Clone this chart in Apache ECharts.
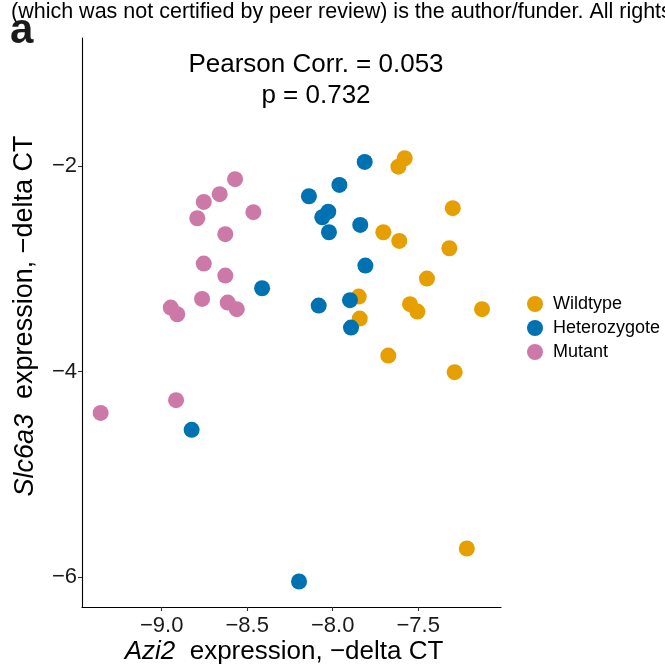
<!DOCTYPE html>
<html>
<head>
<meta charset="utf-8">
<script src="https://cdn.jsdelivr.net/npm/echarts@6/dist/echarts.min.js"></script>
<style>
html,body{margin:0;padding:0;background:#fff;}
#chart{width:665px;height:670px;}
</style>
</head>
<body>
<div id="chart"></div>
<script>
// ---- data ----
const groups = ['Wildtype', 'Heterozygote', 'Mutant'];
const groupColors = ['#E69F00', '#0072B2', '#CC79A7'];

const wildtype = [
  [-7.579, -1.925], [-7.616, -2.007], [-7.298, -2.411], [-7.704, -2.645],
  [-7.611, -2.730], [-7.318, -2.801], [-7.449, -3.096], [-7.848, -3.271],
  [-7.548, -3.345], [-7.505, -3.417], [-7.127, -3.394], [-7.842, -3.485],
  [-7.675, -3.845], [-7.287, -4.007], [-7.216, -5.723]
];
const heterozygote = [
  [-8.413, -3.190], [-7.813, -1.961], [-7.961, -2.185], [-8.139, -2.295],
  [-8.026, -2.445], [-8.061, -2.499], [-7.839, -2.574], [-8.022, -2.645],
  [-7.809, -2.970], [-8.082, -3.359], [-7.899, -3.306], [-7.893, -3.573],
  [-8.825, -4.568], [-8.197, -6.044]
];
const mutant = [
  [-8.571, -2.129], [-8.661, -2.275], [-8.754, -2.350], [-8.464, -2.450],
  [-8.792, -2.509], [-8.628, -2.664], [-8.754, -2.950], [-8.628, -3.067],
  [-8.764, -3.294], [-8.614, -3.330], [-8.561, -3.394], [-8.947, -3.378],
  [-8.909, -3.443], [-8.916, -4.279], [-9.357, -4.403]
];

const xTicks = [-9.0, -8.5, -8.0, -7.5];
const yTicks = [-6, -4, -2];
const xRange = [-9.466, -7.016];
const yRange = [-6.292, -0.755];

const statLines = ['Pearson Corr. = 0.053', 'p = 0.732'];
const headerText = '(which was not certified by peer review) is the author/funder. All rights';
const panelLabel = 'a';
const xTitle = '{i|Azi2}  expression, \u2212delta CT';
const yTitle = '{i|Slc6a3}  expression, \u2212delta CT';

// ---- chart ----
const FONT = '"Liberation Sans", Arial, Helvetica, sans-serif';
const minus = v => String(v).replace('-', '\u2212');
const chart = echarts.init(document.getElementById('chart'));
const seriesData = [wildtype, heterozygote, mutant];

chart.setOption({
  animation: false,
  backgroundColor: '#fff',
  grid: { left: 82, right: 164, top: 38, bottom: 63 },
  xAxis: {
    type: 'value', min: xRange[0], max: xRange[1],
    splitLine: { show: false },
    axisLine: { show: true, onZero: false, lineStyle: { color: '#000', width: 1.1 } },
    axisTick: { show: true, customValues: xTicks, length: 4, lineStyle: { color: '#333', width: 1.1 } },
    axisLabel: {
      customValues: xTicks, margin: 8, color: '#1a1a1a', fontSize: 22, fontFamily: FONT,
      formatter: v => minus(v.toFixed(1))
    }
  },
  yAxis: {
    type: 'value', min: yRange[0], max: yRange[1],
    splitLine: { show: false },
    axisLine: { show: true, onZero: false, lineStyle: { color: '#000', width: 1.1 } },
    axisTick: { show: true, customValues: yTicks, length: 4, lineStyle: { color: '#333', width: 1.1 } },
    axisLabel: {
      customValues: yTicks, margin: 5, color: '#1a1a1a', fontSize: 22, fontFamily: FONT,
      formatter: v => minus(Math.round(v))
    }
  },
  legend: {
    orient: 'vertical', left: 522, top: 290,
    itemWidth: 16, itemHeight: 16, itemGap: 6, icon: 'circle',
    textStyle: { fontSize: 18, fontFamily: FONT, color: '#000', padding: [0, 0, 0, 5] },
    data: groups
  },
  series: groups.map((g, i) => ({
    name: g, type: 'scatter', data: seriesData[i], symbolSize: 16,
    itemStyle: { color: groupColors[i], opacity: 1 },
    emphasis: { disabled: true }
  })),
  graphic: [
    { type: 'text', x: 11, y: 12, silent: true,
      style: { text: headerText, fontSize: 21.5, fontFamily: FONT, fill: '#000', textVerticalAlign: 'middle' } },
    { type: 'text', x: 10, y: 31, silent: true,
      style: { text: panelLabel, fontSize: 42, fontWeight: 'bold', fontFamily: FONT, fill: '#1a1a1a', textVerticalAlign: 'middle' } },
    { type: 'text', x: 316, y: 65, silent: true,
      style: { text: statLines[0], fontSize: 26, fontFamily: FONT, fill: '#000', textAlign: 'center', textVerticalAlign: 'middle' } },
    { type: 'text', x: 316, y: 96, silent: true,
      style: { text: statLines[1], fontSize: 26, fontFamily: FONT, fill: '#000', textAlign: 'center', textVerticalAlign: 'middle' } },
    { type: 'text', x: 284, y: 652, silent: true,
      style: { text: xTitle, fontSize: 26, fontFamily: FONT, fill: '#000', textAlign: 'center', textVerticalAlign: 'middle',
        rich: { i: { fontStyle: 'italic', fontSize: 26, fontFamily: FONT } } } },
    { type: 'text', x: 25, y: 316, rotation: Math.PI / 2, silent: true,
      style: { text: yTitle, fontSize: 27, fontFamily: FONT, fill: '#000', textAlign: 'center', textVerticalAlign: 'middle',
        rich: { i: { fontStyle: 'italic', fontSize: 27, fontFamily: FONT } } } }
  ]
});
</script>
</body>
</html>
